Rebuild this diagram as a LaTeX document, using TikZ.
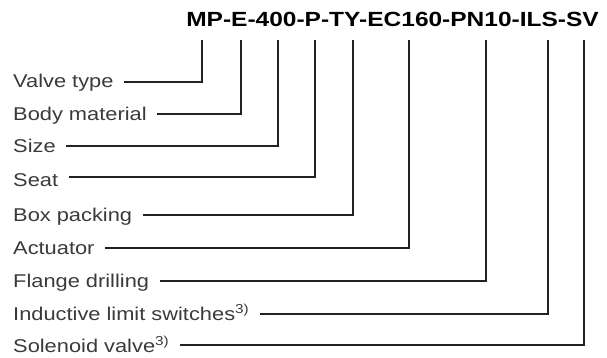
\documentclass[tikz,border=0pt]{standalone}
\usepackage{fontspec}
\setmainfont{Liberation Sans}[FakeStretch=1.18]
\newfontfamily\titlefont{Liberation Sans}[FakeStretch=1.195]
\definecolor{labelgray}{HTML}{3A3A3A}
\definecolor{linegray}{HTML}{222222}
\begin{document}
\begin{tikzpicture}[x=1pt,y=-1pt,
  lbl/.style={anchor=base west, inner sep=0pt, font=\fontsize{18.5}{22}\selectfont, text=labelgray},
  conn/.style={draw=linegray, line width=1.2pt, shorten <=10.5pt}]
\useasboundingbox (0,0) rectangle (607,358);
\node[anchor=base east, inner sep=0pt, font=\titlefont\bfseries\fontsize{20.5}{24}\selectfont] (title) at (599,26.5) {MP-E-400-P-TY-EC160-PN10-ILS-SV};
% top points
\foreach \n/\x/\y in {1/202/82, 2/241/114, 3/278/146, 4/315/177, 5/353/215, 6/409/248, 7/486/281, 8/548/314, 9/584/345}{
  \coordinate (t\n) at (\x,40);
  \coordinate (c\n) at (\x,\y);
}
\node[lbl] (l1) at (13,88) {Valve type};
\node[lbl] (l2) at (13,121) {Body material};
\node[lbl] (l3) at (13,153) {Size};
\node[lbl] (l4) at (13,186) {Seat};
\node[lbl] (l5) at (13,221) {Box packing};
\node[lbl] (l6) at (13,254) {Actuator};
\node[lbl] (l7) at (13,287) {Flange drilling};
\node[lbl] (l8) at (13,320) {Inductive limit switches\textsuperscript{3)}};
\node[lbl] (l9) at (13,352) {Solenoid valve\textsuperscript{3)}};
\foreach \n in {1,...,9}{
  \draw[conn] (l\n.east |- c\n) -- (c\n) -- (t\n);
}
\end{tikzpicture}
\end{document}
